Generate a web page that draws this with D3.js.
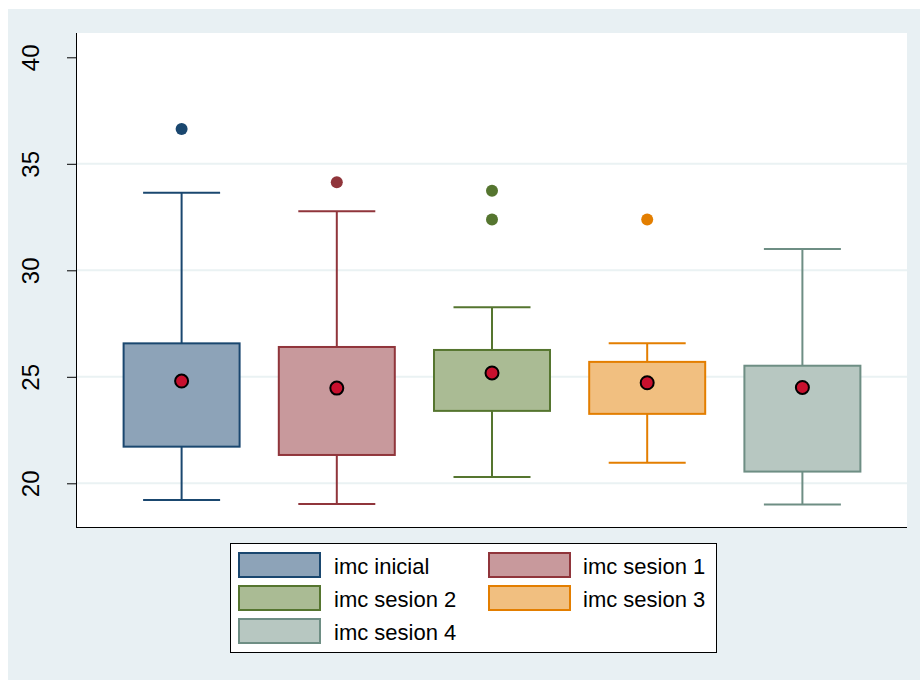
<!DOCTYPE html>
<html><head><meta charset="utf-8">
<script src="https://cdn.jsdelivr.net/npm/d3@7"></script>
<style>body{margin:0;background:#fff}svg{display:block}text{font-family:"Liberation Sans",Arial,sans-serif}</style>
</head><body>
<svg id="c" width="920" height="680"></svg>
<script>
const categories = ["imc inicial","imc sesion 1","imc sesion 2","imc sesion 3","imc sesion 4"];
const lowerWhisker = [19.22, 19.03, 20.30, 20.96, 19.00];
const q1 = [21.72, 21.33, 23.40, 23.26, 20.55];
const q3 = [26.57, 26.40, 26.26, 25.70, 25.52];
const upperWhisker = [33.64, 32.77, 28.26, 26.57, 31.00];
const means = [24.80, 24.47, 25.18, 24.72, 24.50];
const outliers = [[36.63],[34.13],[33.73,32.39],[32.39],[]];
const yTicks = [20,25,30,35,40];
const lineColors = ["#1a476f","#90353b","#55752f","#e37e00","#6e8e84"];
const fillColors = ["#8da3b8","#c8999c","#aabb94","#f1bf80","#b7c7c1"];

const svg = d3.select("#c");
svg.append("rect").attr("x",8).attr("y",9).attr("width",912).attr("height",671).attr("fill","#e8f0f3");
const L=77,R=907,T=33,B=527;
svg.append("rect").attr("x",L).attr("y",T).attr("width",R-L).attr("height",B-T).attr("fill","#fff");

const y = d3.scaleLinear().domain([20,40]).range([483.3,57.3]);
const x = d3.scalePoint().domain(categories).range([L,R]).padding(0.674);
const boxW=116, capW=77;

// gridlines
svg.append("g").selectAll("line").data(yTicks.filter(t=>t<40)).join("line")
  .attr("x1",L).attr("x2",R).attr("y1",d=>y(d)).attr("y2",d=>y(d))
  .attr("stroke","#eaf2f3").attr("stroke-width",2);

// y axis
const ax = svg.append("g").attr("transform",`translate(${L},0)`)
  .call(d3.axisLeft(y).tickValues(yTicks).tickSize(10).tickPadding(0).tickFormat(d3.format("d")));
ax.select(".domain").remove();
ax.selectAll(".tick line").attr("stroke","#000");
ax.selectAll(".tick text").attr("font-size",24).attr("fill","#000")
  .attr("text-anchor","middle").attr("dy",0)
  .attr("transform",function(){return "translate(-38.5,0) rotate(-90)";}).attr("x",0).attr("y",0);
svg.append("line").attr("x1",L-0.5).attr("x2",L-0.5).attr("y1",T).attr("y2",B+1).attr("stroke","#000").attr("stroke-width",1);
svg.append("line").attr("x1",L-1).attr("x2",R).attr("y1",B+0.5).attr("y2",B+0.5).attr("stroke","#000").attr("stroke-width",1);

const g = svg.append("g").selectAll("g").data(categories).join("g");
g.each(function(c,i){
  const s=d3.select(this), cx=x(c), col=lineColors[i];
  s.append("line").attr("x1",cx).attr("x2",cx).attr("y1",y(q3[i])).attr("y2",y(upperWhisker[i])).attr("stroke",col).attr("stroke-width",2);
  s.append("line").attr("x1",cx).attr("x2",cx).attr("y1",y(q1[i])).attr("y2",y(lowerWhisker[i])).attr("stroke",col).attr("stroke-width",2);
  s.append("line").attr("x1",cx-capW/2).attr("x2",cx+capW/2).attr("y1",y(upperWhisker[i])).attr("y2",y(upperWhisker[i])).attr("stroke",col).attr("stroke-width",2);
  s.append("line").attr("x1",cx-capW/2).attr("x2",cx+capW/2).attr("y1",y(lowerWhisker[i])).attr("y2",y(lowerWhisker[i])).attr("stroke",col).attr("stroke-width",2);
  s.append("rect").attr("x",cx-boxW/2).attr("width",boxW).attr("y",y(q3[i])).attr("height",y(q1[i])-y(q3[i]))
    .attr("fill",fillColors[i]).attr("stroke",col).attr("stroke-width",2);
  s.selectAll("circle.o").data(outliers[i]).join("circle").attr("class","o")
    .attr("cx",cx).attr("cy",d=>y(d)).attr("r",6).attr("fill",col);
  s.append("circle").attr("cx",cx).attr("cy",y(means[i])).attr("r",6.5)
    .attr("fill","#c8102e").attr("stroke","#000").attr("stroke-width",2);
});

// legend
const lg = svg.append("g");
lg.append("rect").attr("x",230.5).attr("y",543.5).attr("width",486).attr("height",109).attr("fill","#fff").attr("stroke","#000").attr("stroke-width",1);
categories.forEach((c,i)=>{
  const col=i%2, row=Math.floor(i/2);
  const kx = col===0?239:489, ky=553+row*33;
  lg.append("rect").attr("x",kx).attr("y",ky).attr("width",81).attr("height",24)
    .attr("fill",fillColors[i]).attr("stroke",lineColors[i]).attr("stroke-width",2);
  lg.append("text").attr("x",col===0?334:583).attr("y",ky+21).attr("font-size",22).attr("fill","#000").text(c);
});
</script>
</body></html>
